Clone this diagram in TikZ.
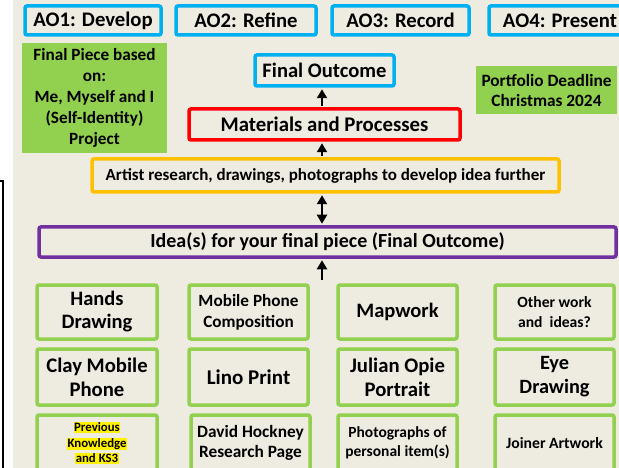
\documentclass[tikz,border=0pt]{standalone}
\usepackage{fontspec}
\setmainfont{Carlito}
\usetikzlibrary{arrows.meta}
\definecolor{aoblue}{HTML}{00B0F0}
\definecolor{mpred}{HTML}{FF0000}
\definecolor{arorange}{HTML}{FFC000}
\definecolor{idpurple}{HTML}{7030A0}
\definecolor{pgreen}{HTML}{92D050}
\definecolor{paper}{HTML}{EEECE1}
\newcommand{\fsz}[2]{\fontsize{#1}{#2}\selectfont}
\newcommand{\hl}[1]{\colorbox{yellow}{#1}}
\setlength{\fboxsep}{0.5pt}

\begin{document}
\begin{tikzpicture}[x=1pt,y=-1pt,
  box/.style={draw=#1,line width=3.5pt,rounded corners=2pt,align=center,inner sep=0pt},
  aobox/.style={box=aoblue,minimum height=29pt,font=\bfseries\fsz{20.7}{23}},
  note/.style={fill=pgreen,align=center,inner sep=0pt},
  topic/.style={box=pgreen,minimum width=119pt},
  arr/.style={line width=2.8pt,-{Triangle[length=9pt,width=10pt]},shorten >=1.5pt,shorten <=1.5pt},
  darr/.style={arr,{Triangle[length=9pt,width=10pt]}-{Triangle[length=9pt,width=10pt]}}]

  \useasboundingbox (0,0) rectangle (619,468);
  \clip (0,0) rectangle (619,468);
  \fill[paper] (13,0) rectangle (619,468);
  \draw[line width=1.5pt] (0,181) -- (3,181) -- (3,468);

  % assessment objectives
  \node[aobox,minimum width=136pt] (ao1) at (93,20.5) {AO1: Develop};
  \node[aobox,minimum width=140pt] (ao2) at (246,20.5) {AO2: Refine};
  \node[aobox,minimum width=137pt] (ao3) at (400.5,20.5) {AO3: Record};
  \node[aobox,minimum width=142pt] (ao4) at (560,20.5) {AO4: Present};

  % notes
  \node[note,minimum width=145pt,minimum height=110pt,font=\bfseries\fsz{17.2}{21}] (brief) at (94.5,98)
    {Final Piece based\\on:\\Me, Myself and I\\(Self-Identity)\\Project};
  \node[note,minimum width=141pt,minimum height=48pt,font=\bfseries\fsz{17.3}{20}] (deadline) at (546.5,90)
    {Portfolio Deadline\\Christmas 2024};

  % main flow
  \node[box=aoblue,minimum width=139pt,minimum height=31pt,font=\bfseries\fsz{20.6}{23}] (outcome) at (324.5,70.5) {Final Outcome};
  \node[box=mpred,minimum width=271pt,minimum height=31pt,font=\bfseries\fsz{20.8}{23}] (materials) at (324.5,124.5) {Materials and Processes};
  \node[box=arorange,minimum width=467pt,minimum height=33pt,font=\bfseries\fsz{17}{18}] (research) at (325.5,175.5)
    {Artist research, drawings, photographs to develop idea further};
  \node[box=idpurple,minimum width=577pt,minimum height=30pt,font=\bfseries\fsz{20}{21}] (ideas) at (327.5,242)
    {Idea(s) for your final piece (Final Outcome)};
  \coordinate (gridtop) at (322,281);

  % starting points
  \node[topic,minimum height=54pt,minimum width=120pt,font=\bfseries\fsz{20.5}{23}] (hands) at (97,312) {Hands\\Drawing};
  \node[topic,minimum height=54pt,font=\bfseries\fsz{17.2}{21}] (phonecomp) at (248.5,312) {Mobile Phone\\Composition};
  \node[topic,minimum height=54pt,font=\bfseries\fsz{20.5}{23}] (mapwork) at (397.5,312) {Mapwork};
  \node[topic,minimum height=54pt,font=\bfseries\fsz{15.6}{20}] (other) at (554.5,312) {Other work\\and~ ideas?};

  \node[topic,minimum height=56pt,minimum width=120pt,font=\bfseries\fsz{20.7}{24}] (clay) at (97,377) {Clay Mobile\\Phone};
  \node[topic,minimum height=56pt,font=\bfseries\fsz{21}{23}] (lino) at (248.5,377) {Lino Print};
  \node[topic,minimum height=56pt,font=\bfseries\fsz{20.7}{24}] (opie) at (397.5,377) {Julian Opie\\Portrait};
  \node[topic,minimum height=56pt,font=\bfseries\fsz{20.3}{24}] (eye) at (554.5,377) {Eye\\Drawing};

  \node[topic,minimum height=56pt,minimum width=120pt,font=\bfseries\fsz{12.8}{15.5}] (previous) at (97,443)
    {\hl{Previous}\\\hl{Knowledge}\\\hl{and KS3}};
  \node[topic,minimum height=56pt,font=\bfseries\fsz{17.3}{20}] (hockney) at (250.5,443) {David Hockney\\Research Page};
  \node[topic,minimum height=56pt,font=\bfseries\fsz{15.5}{19}] (photos) at (397.5,443) {Photographs of\\personal item(s)};
  \node[topic,minimum height=56pt,font=\bfseries\fsz{15.7}{18}] (joiner) at (554.5,443) {Joiner Artwork};

  % arrows
  \draw[arr] ([xshift=-2.5pt]materials.north) -- ([xshift=-2.5pt]outcome.south);
  \draw[arr] (research.north -| gridtop) -- (materials.south -| gridtop);
  \draw[darr] (research.south -| gridtop) -- (ideas.north -| gridtop);
  \draw[arr] (gridtop) -- (ideas.south -| gridtop);

\end{tikzpicture}
\end{document}
